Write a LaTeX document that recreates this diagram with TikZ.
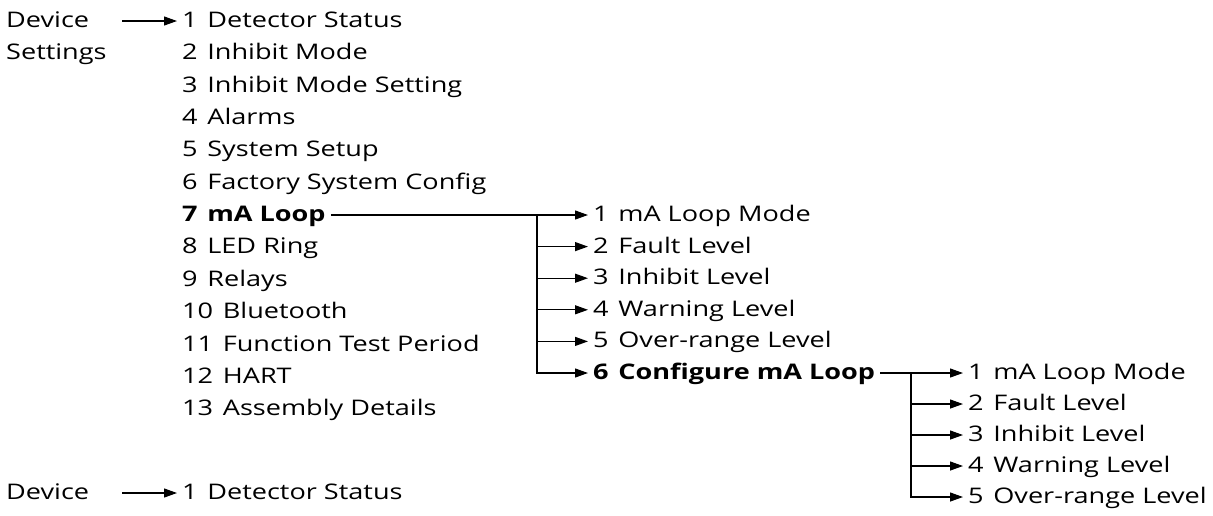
\documentclass[tikz,border=0pt]{standalone}
\usepackage{fontspec}
\setmainfont{Open Sans}[FakeStretch=1.26]
\usetikzlibrary{arrows.meta}
\newcommand\itm[2]{#1\hspace{0.45em}#2}
\begin{document}
\begin{tikzpicture}[x=1pt,y=-1pt,
  lbl/.style={anchor=west, inner xsep=0pt, inner ysep=0pt, text height=17pt, text depth=4pt, font=\fontsize{21.5}{25}\selectfont},
  item/.style={lbl, inner xsep=5pt},
  seg/.style={line width=1.2pt},
  conn/.style={seg, -{Triangle[length=13pt,width=9pt]}}]
\useasboundingbox (0,0) rectangle (1213,515);
% left labels
\node[lbl] (dev) at (6,21) {Device};
\node[lbl] (set) at (6,53.35) {Settings};
\coordinate (d1) at (122,21);
% main column
\node[item] (r1) at (177,21) {\itm{1}{Detector Status}};
\node[item] (r2) at (177,53.35) {\itm{2}{Inhibit Mode}};
\node[item] (r3) at (177,85.7) {\itm{3}{Inhibit Mode Setting}};
\node[item] (r4) at (177,118.05) {\itm{4}{Alarms}};
\node[item] (r5) at (177,150.4) {\itm{5}{System Setup}};
\node[item] (r6) at (177,182.75) {\itm{6}{Factory System Config}};
\node[item,font=\fontsize{21.5}{25}\selectfont\bfseries] (r7) at (177,215) {\itm{7}{mA Loop}};
\node[item] (r8) at (177,247.45) {\itm{8}{LED Ring}};
\node[item] (r9) at (177,279.8) {\itm{9}{Relays}};
\node[item] (r10) at (177,312.15) {\itm{10}{Bluetooth}};
\node[item] (r11) at (177,344.5) {\itm{11}{Function Test Period}};
\node[item] (r12) at (177,376.85) {\itm{12}{HART}};
\node[item] (r13) at (177,409.2) {\itm{13}{Assembly Details}};
\draw[conn] (d1) -- (r1.west);
% second column
\node[item] (s1) at (588,215) {\itm{1}{mA Loop Mode}};
\node[item] (s2) at (588,246.6) {\itm{2}{Fault Level}};
\node[item] (s3) at (588,278.2) {\itm{3}{Inhibit Level}};
\node[item] (s4) at (588,309.8) {\itm{4}{Warning Level}};
\node[item] (s5) at (588,341.4) {\itm{5}{Over-range Level}};
\node[item,font=\fontsize{21.5}{25}\selectfont\bfseries] (s6) at (588,373) {\itm{6}{Configure mA Loop}};
\coordinate (b1) at (537,215);
\draw[conn] (r7.east) -- (s1.west);
\foreach \j in {2,...,6} \draw[conn] (b1) |- (s\j.west);
% third column
\node[item] (t1) at (963,373) {\itm{1}{mA Loop Mode}};
\node[item] (t2) at (963,404) {\itm{2}{Fault Level}};
\node[item] (t3) at (963,435) {\itm{3}{Inhibit Level}};
\node[item] (t4) at (963,466) {\itm{4}{Warning Level}};
\node[item] (t5) at (963,497) {\itm{5}{Over-range Level}};
\coordinate (b2) at (911,373);
\draw[conn] (s6.east) -- (t1.west);
\foreach \k in {2,...,5} \draw[conn] (b2) |- (t\k.west);
% bottom
\node[lbl] (dev2) at (6,493) {Device};
\coordinate (d2) at (122,493);
\node[item] (q1) at (177,493) {\itm{1}{Detector Status}};
\draw[conn] (d2) -- (q1.west);
\end{tikzpicture}
\end{document}
